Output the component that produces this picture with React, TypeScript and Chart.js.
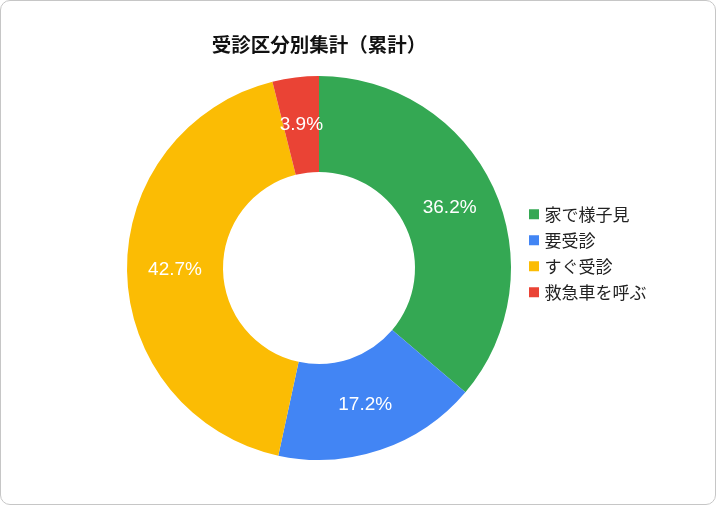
import { useEffect, useRef } from 'react';
import { Chart, registerables } from 'chart.js';

Chart.register(...registerables);

const chartTitle = '受診区分別集計（累計）';
const categories = ['家で様子見', '要受診', 'すぐ受診', '救急車を呼ぶ'];
const shares = [36.2, 17.2, 42.7, 3.9];
const sliceColors = ['#34a853', '#4285f4', '#fbbc04', '#ea4335'];

const sliceLabels = {
  id: 'sliceLabels',
  afterDatasetsDraw(chart: any) {
    const { ctx } = chart;
    const meta = chart.getDatasetMeta(0);
    const data = chart.data.datasets[0].data as number[];
    const total = data.reduce((a, b) => a + b, 0);
    ctx.save();
    ctx.fillStyle = '#ffffff';
    ctx.font = '19px "Liberation Sans", Arial, sans-serif';
    ctx.textAlign = 'center';
    ctx.textBaseline = 'middle';
    meta.data.forEach((arc: any, i: number) => {
      const { x, y } = arc.tooltipPosition(false);
      ctx.fillText(((data[i] / total) * 100).toFixed(1) + '%', x, y);
    });
    ctx.restore();
  },
};

export default function App() {
  const ref = useRef<HTMLCanvasElement>(null);

  useEffect(() => {
    document.body.style.margin = '0';
    const chart = new Chart(ref.current as HTMLCanvasElement, {
      type: 'doughnut',
      data: {
        labels: categories,
        datasets: [
          {
            data: shares,
            backgroundColor: sliceColors,
            borderWidth: 0,
            hoverBorderWidth: 0,
            hoverOffset: 0,
          },
        ],
      },
      options: {
        responsive: false,
        animation: false,
        events: [],
        cutout: '50%',
        layout: { padding: { top: 46.6, bottom: 45, left: 115, right: 63 } },
        plugins: {
          title: {
            display: true,
            text: chartTitle,
            position: 'top',
            align: 'center',
            fullSize: false,
            color: '#111111',
            font: { family: '"Noto Sans CJK JP", sans-serif', size: 19.5, weight: 'bold', lineHeight: 1.2 },
            padding: { top: -13.8, bottom: 19.8 },
          },
          legend: {
            position: 'right',
            align: 'center',
            fullSize: true,
            maxWidth: 130,
            labels: {
              usePointStyle: true,
              pointStyle: 'rect',
              boxWidth: 4,
              boxHeight: 10,
              padding: 9,
              color: '#222222',
              font: { family: '"Noto Sans CJK JP", sans-serif', size: 17 },
            },
          },
          tooltip: { enabled: false },
        },
      } as any,
      plugins: [sliceLabels],
    });
    return () => chart.destroy();
  }, []);

  return (
    <div style={{ position: 'relative', width: 716, height: 505, background: '#ffffff' }}>
      <canvas
        ref={ref}
        width={716}
        height={505}
        style={{ position: 'absolute', left: 0, top: 0, width: 716, height: 505 }}
      />
      <div
        style={{
          position: 'absolute',
          inset: 0,
          border: '1px solid #c6c6c6',
          borderRadius: 10,
          boxSizing: 'border-box',
          pointerEvents: 'none',
        }}
      />
    </div>
  );
}
